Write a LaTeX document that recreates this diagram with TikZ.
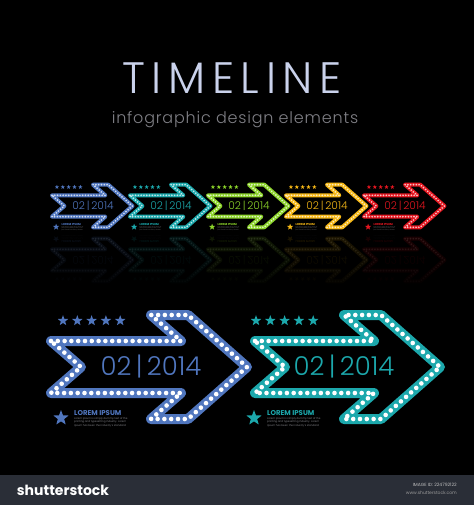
\documentclass[tikz,border=0pt]{standalone}
\usepackage{fontspec}
\setmainfont{Poppins}
\newfontfamily\thinfont{Poppins Light}
\newfontfamily\titlefont{Poppins Light}[LetterSpace=15]
\newfontfamily\subfont{Poppins Light}[LetterSpace=5]
\usetikzlibrary{shapes.geometric,fadings}

\definecolor{tlblue}{RGB}{80,118,190}
\definecolor{tlteal}{RGB}{28,168,172}
\definecolor{tlgreen}{RGB}{140,212,42}
\definecolor{tlyellow}{RGB}{246,184,22}
\definecolor{tlred}{RGB}{228,22,32}
\definecolor{titlecol}{RGB}{202,210,236}
\definecolor{subcol}{RGB}{128,128,134}
\definecolor{barcol}{RGB}{42,46,55}

\tikzfading[name=darkdown, top color=transparent!100, bottom color=transparent!0]

\tikzset{
  starmark/.style={star, star points=5, star point ratio=2.4, inner sep=0pt, minimum size=11},
  lorstar/.style={star, star points=5, star point ratio=2.4, inner sep=0pt, minimum size=16},
}

% #1 x, #2 y, #3 scale, #4 tail start, #5 colour, #6 dot colour, #7 name
\newcommand{\milestone}[7]{%
  \pgfmathsetmacro{\bandw}{10*#3}%
  \pgfmathsetmacro{\dotw}{4.6*#3}%
  \pgfmathsetmacro{\dotgap}{6.8*#3}%
  \begin{scope}[shift={(#1,#2)}, scale=#3, transform shape]
    \draw[#6, line width=\dotw pt, line cap=round, dash pattern=on 0pt off \dotgap pt,
          preaction={draw, #5, line width=\bandw pt, line join=round, solid}]
      (#4,-26) -- (130,-26) -- (100,-52) -- (137,-52) -- (196,0) -- (137,52)
      -- (100,52) -- (130,26) -- (#4,26) -- ++(30,-26) -- cycle;
    \foreach \i in {0,...,4}
      \node (#7-s\i) at (12+14.3*\i,-46.3) [starmark, fill=#5] {};
    \node (#7-date) at (100,0) [text=#5, font=\thinfont\fontsize{26}{26}\selectfont] {02\,|\,2014};
    \node (#7-star) at (10,51) [lorstar, fill=#5] {};
    \node (#7-head) at (23,48.5) [anchor=south west, inner sep=0pt, text=#5,
          font=\bfseries\fontsize{7}{7}\selectfont] {LOREM IPSUM};
    \node (#7-body) at (23,50.5) [anchor=north west, inner sep=0pt, align=left, text=subcol,
          font=\fontsize{2.6}{3.2}\selectfont]
          {Lorem Ipsum is simply dummy text of the\\printing and typesetting industry. Lorem\\Ipsum has been the industry's standard};
  \end{scope}}

\begin{document}
\begin{tikzpicture}[x=1pt,y=-1pt]
\fill[black] (0,0) rectangle (474,505);

\node (title) at (232,78) [text=titlecol, font=\titlefont\fontsize{44}{44}\selectfont] {TIMELINE};
\node (subtitle) at (235,120) [text=subcol, font=\subfont\fontsize{16}{16}\selectfont] {infographic design elements};

% small row
\milestone{52}{206}{0.41}{0}{tlblue}{tlblue!25!white}{sa}
\milestone{130}{206}{0.41}{0}{tlteal}{tlteal!25!white}{sb}
\milestone{208}{206}{0.41}{0}{tlgreen}{tlgreen!25!white}{sc}
\milestone{286}{206}{0.41}{0}{tlyellow}{tlyellow!25!white}{sd}
\milestone{364}{206}{0.41}{0}{tlred}{tlred!25!white}{se}

% reflection
\begin{scope}[shift={(0,466)}, yscale=-1, opacity=0.12]
\milestone{52}{206}{0.41}{0}{tlblue}{tlblue!25!white}{ra}
\milestone{130}{206}{0.41}{0}{tlteal}{tlteal!25!white}{rb}
\milestone{208}{206}{0.41}{0}{tlgreen}{tlgreen!25!white}{rc}
\milestone{286}{206}{0.41}{0}{tlyellow}{tlyellow!25!white}{rd}
\milestone{364}{206}{0.41}{0}{tlred}{tlred!25!white}{re}
\end{scope}
\fill[black, path fading=darkdown] (0,236) rectangle (474,292);

% big pair
\milestone{51}{367}{1}{0}{tlblue}{white}{ba}
\milestone{244}{367}{1}{11}{tlteal}{white}{bb}

% footer
\fill[barcol] (0,475) rectangle (474,505);
\node (brand) at (63,490) [text=white, font=\bfseries\fontsize{14}{14}\selectfont] {shutterstock};
\node (imgid) at (457,485) [anchor=east, inner sep=0pt, text=white!75!black, font=\fontsize{4.5}{4.5}\selectfont] {IMAGE ID: 224792122};
\node (site) at (457,493) [anchor=east, inner sep=0pt, text=white!60!black, font=\fontsize{4.5}{4.5}\selectfont] {www.shutterstock.com};
\end{tikzpicture}
\end{document}
